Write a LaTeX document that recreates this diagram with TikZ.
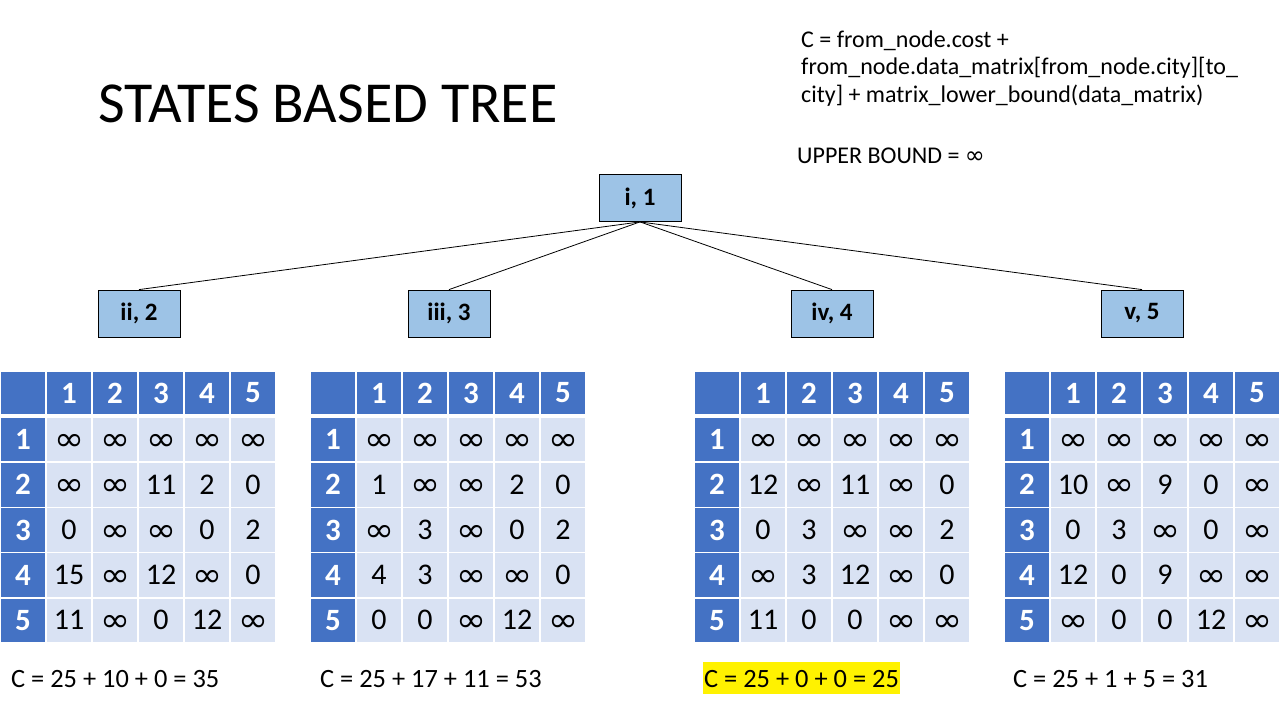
\documentclass[tikz,border=0pt]{standalone}
\usepackage{fontspec}
\setmainfont{Carlito}
\newfontfamily\symfont{DejaVu Sans}
\newcommand{\infsym}{{\symfont\raisebox{-1.5pt}{\scalebox{1.2}[1.1]{∞}}}}
\definecolor{hdblue}{HTML}{4472C4}
\definecolor{cellblue}{HTML}{D9E2F3}
\definecolor{statefill}{HTML}{9DC3E6}
\tikzset{
  state/.style={draw=black, fill=statefill, line width=0.8pt, minimum width=82pt, minimum height=47pt, inner sep=0pt, font=\fontsize{25}{29}\selectfont\bfseries},
  hd/.style={fill=hdblue, draw=white, line width=1.5pt, text=white, minimum width=46pt, minimum height=44pt, inner sep=0pt, font=\fontsize{31}{35}\selectfont\bfseries},
  rowhd/.style={hd, minimum height=45.2pt},
  cell/.style={fill=cellblue, draw=white, line width=1.5pt, minimum width=46pt, minimum height=45.2pt, inner sep=0pt, text height=19pt, text depth=0pt, font=\fontsize{30}{34}\selectfont},
  cost/.style={anchor=base west, inner sep=0pt, font=\fontsize{26.4}{30}\selectfont},
  formula/.style={anchor=base west, inner sep=0pt, font=\fontsize{24}{28}\selectfont},
  link/.style={draw=black, line width=0.8pt},
}
\begin{document}
\begin{tikzpicture}[x=1pt,y=-1pt]
        \fill[white] (0,0) rectangle (1280,720);
        \useasboundingbox (0,0) rectangle (1280,720);

        \node[anchor=base west, inner sep=0pt, font=\fontsize{58}{64}\selectfont] (title) at (98,122) {STATES BASED TREE};

        \node[formula] (f1) at (801,47) {C = from\_node.cost +};
        \node[formula] (f2) at (801,74.5) {from\_node.data\_matrix[from\_node.city][to\_};
        \node[formula] (f3) at (801,102) {city] + matrix\_lower\_bound(data\_matrix)};
        \node[formula] (ub) at (797,163) {UPPER BOUND = {\symfont ∞}};

        % tree
        \node[state] (i1) at (640,198) {i, 1};
        \node[state] (ii2) at (139,313.5) {ii, 2};
        \node[state] (iii3) at (449,313.5) {iii, 3};
        \node[state] (iv4) at (832,313.5) {iv, 4};
        \node[state] (v5) at (1142,313.5) {v, 5};
        \draw[link] (i1.south) -- (ii2.north);
        \draw[link] (i1.south) -- (iii3.north);
        \draw[link] (i1.south) -- (iv4.north);
        \draw[link] (i1.south) -- (v5.north);

        % matrix of ii, 2
        \begin{scope}[shift={(0,371)}]
        \node[hd] (a00) at (23,22) {};
        \foreach \c in {1,...,5} \node[hd] (a0\c) at (23+46*\c,22) {\c};
        \foreach \r/\vals in {1/{\infsym,\infsym,\infsym,\infsym,\infsym},
                              2/{\infsym,\infsym,11,2,0},
                              3/{0,\infsym,\infsym,0,2},
                              4/{15,\infsym,12,\infsym,0},
                              5/{11,\infsym,0,12,\infsym}} {
          \node[rowhd] (a\r0) at (23,68.6+45.2*\r-45.2) {\r};
          \foreach \v [count=\c] in \vals \node[cell] (a\r\c) at (23+46*\c,68.6+45.2*\r-45.2) {\v};
        }
        \end{scope}
        \node[cost] (costa) at (11,687) {C = 25 + 10 + 0 = 35};

        % matrix of iii, 3
        \begin{scope}[shift={(310,371)}]
        \node[hd] (b00) at (23,22) {};
        \foreach \c in {1,...,5} \node[hd] (b0\c) at (23+46*\c,22) {\c};
        \foreach \r/\vals in {1/{\infsym,\infsym,\infsym,\infsym,\infsym},
                              2/{1,\infsym,\infsym,2,0},
                              3/{\infsym,3,\infsym,0,2},
                              4/{4,3,\infsym,\infsym,0},
                              5/{0,0,\infsym,12,\infsym}} {
          \node[rowhd] (b\r0) at (23,68.6+45.2*\r-45.2) {\r};
          \foreach \v [count=\c] in \vals \node[cell] (b\r\c) at (23+46*\c,68.6+45.2*\r-45.2) {\v};
        }
        \end{scope}
        \node[cost] (costb) at (320,687) {C = 25 + 17 + 11 = 53};

        % matrix of iv, 4
        \begin{scope}[shift={(694,371)}]
        \node[hd] (c00) at (23,22) {};
        \foreach \c in {1,...,5} \node[hd] (c0\c) at (23+46*\c,22) {\c};
        \foreach \r/\vals in {1/{\infsym,\infsym,\infsym,\infsym,\infsym},
                              2/{12,\infsym,11,\infsym,0},
                              3/{0,3,\infsym,\infsym,2},
                              4/{\infsym,3,12,\infsym,0},
                              5/{11,0,0,\infsym,\infsym}} {
          \node[rowhd] (c\r0) at (23,68.6+45.2*\r-45.2) {\r};
          \foreach \v [count=\c] in \vals \node[cell] (c\r\c) at (23+46*\c,68.6+45.2*\r-45.2) {\v};
        }
        \end{scope}
        \node[cost, fill=yellow, text height=21pt, text depth=3pt, inner xsep=1.5pt, inner ysep=4pt] (costc) at (702.5,687) {C = 25 + 0 + 0 = 25};

        % matrix of v, 5
        \begin{scope}[shift={(1004,371)}]
        \node[hd] (d00) at (23,22) {};
        \foreach \c in {1,...,5} \node[hd] (d0\c) at (23+46*\c,22) {\c};
        \foreach \r/\vals in {1/{\infsym,\infsym,\infsym,\infsym,\infsym},
                              2/{10,\infsym,9,0,\infsym},
                              3/{0,3,\infsym,0,\infsym},
                              4/{12,0,9,\infsym,\infsym},
                              5/{\infsym,0,0,12,\infsym}} {
          \node[rowhd] (d\r0) at (23,68.6+45.2*\r-45.2) {\r};
          \foreach \v [count=\c] in \vals \node[cell] (d\r\c) at (23+46*\c,68.6+45.2*\r-45.2) {\v};
        }
        \end{scope}
        \node[cost] (costd) at (1013,687) {C = 25 + 1 + 5 = 31};
\end{tikzpicture}
\end{document}
